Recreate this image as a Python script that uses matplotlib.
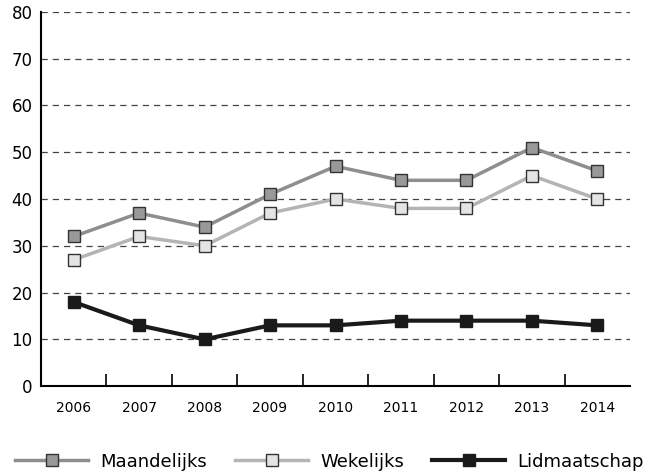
import numpy as np
import matplotlib.pyplot as plt

years = ["2006", "2007", "2008", "2009", "2010", "2011", "2012", "2013", "2014"]
maandelijks = [32, 37, 34, 41, 47, 44, 44, 51, 46]
wekelijks = [27, 32, 30, 37, 40, 38, 38, 45, 40]
lidmaatschap = [18, 13, 10, 13, 13, 14, 14, 14, 13]

plt.rcParams['font.family'] = ['DejaVu Sans']

fig = plt.figure(figsize=(6.49, 4.75), dpi=100)
ax = fig.add_axes([0.063, 0.187, 0.908, 0.788])

x = np.arange(len(years))
ax.plot(x, maandelijks, color='#8e8e8e', lw=2.5, marker='s', ms=8,
        mfc='#999999', mec='#333333', mew=1, label='Maandelijks', zorder=3)
ax.plot(x, wekelijks, color='#b4b4b4', lw=2.5, marker='s', ms=8,
        mfc='#e4e4e4', mec='#333333', mew=1, label='Wekelijks', zorder=3)
ax.plot(x, lidmaatschap, color='#1a1a1a', lw=3, marker='s', ms=8,
        mfc='#1a1a1a', mec='#1a1a1a', mew=1, label='Lidmaatschap', zorder=4)

ax.set_xlim(-0.5, len(years) - 0.5)
ax.set_ylim(0, 80)
ax.set_yticks(range(0, 81, 10))
ax.yaxis.grid(True, ls=(0, (5, 4)), color='#444444', lw=0.9)
ax.set_axisbelow(True)

ax.set_xticks(x)
ax.set_xticklabels(years, fontsize=10)
ax.set_xticks(np.arange(0.5, len(years) - 1, 1), minor=True)
ax.tick_params(axis='x', which='major', length=0, pad=11)
ax.tick_params(axis='x', which='minor', length=9, direction='in', width=1.2)
ax.tick_params(axis='y', length=0, labelsize=12, pad=6)

for s in ['top', 'right']:
    ax.spines[s].set_visible(False)
ax.spines['left'].set_linewidth(1.5)
ax.spines['bottom'].set_linewidth(1.5)

fig.legend(loc='center', bbox_to_anchor=(0.508, 0.028), ncol=3,
           frameon=False, fontsize=13, handlelength=4.05, columnspacing=1.55,
           handletextpad=0.67, borderpad=0, borderaxespad=0)

fig.savefig('out.png', dpi=100)
